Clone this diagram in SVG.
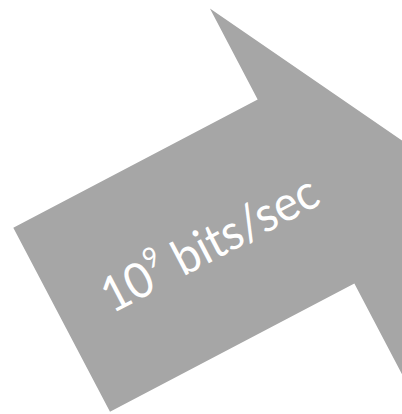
<svg xmlns="http://www.w3.org/2000/svg" width="402" height="414" viewBox="0 0 402 414">
  <style>
    .arrow { fill: #a6a6a6; stroke: none; }
    .label { fill: #ffffff; font-family: "Lato", "Open Sans", "Liberation Sans", sans-serif; font-size: 49px; }
    .sup { font-size: 28px; }
  </style>
  <rect width="402" height="414" fill="#ffffff"/>
  <g id="arrow-node">
    <polygon class="arrow" transform="translate(13.3 227.7) rotate(-27.7)" points="0,0 276,0 276,-102.7 385,104 276,310.7 276,208 0,208"/>
    <text class="label" transform="translate(112 314) rotate(-27.7)" x="0" y="0" textLength="238" lengthAdjust="spacingAndGlyphs">1<tspan dx="-1">0</tspan><tspan class="sup" dx="1" dy="-22">9</tspan><tspan dy="22"> bits/sec</tspan></text>
  </g>
  <g id="connectors"/>
</svg>
